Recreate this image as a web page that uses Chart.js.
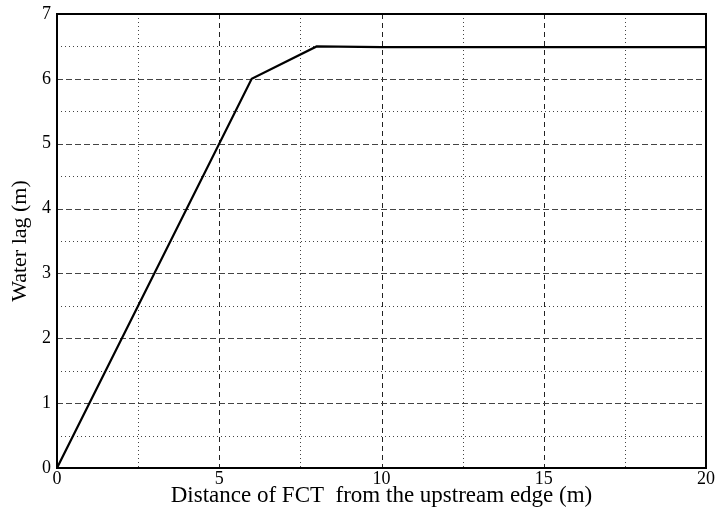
<!DOCTYPE html>
<html><head><meta charset="utf-8">
<script src="https://cdn.jsdelivr.net/npm/chart.js@4/dist/chart.umd.min.js"></script>
<style>html,body{margin:0;padding:0;background:#fff}#wrap{width:719px;height:523px}</style>
</head><body><div id="wrap"><canvas id="c" width="719" height="523"></canvas></div>
<script>
const distance = [0, 6, 8, 10, 20];
const waterLag = [0, 6, 6.5, 6.49, 6.49];
const xMajorGrid = [5, 10, 15];
const xMinorGrid = [2.5, 7.5, 12.5, 17.5];
const yMajorGrid = [1, 2, 3, 4, 5, 6];
const yMinorGrid = [0.5, 1.5, 2.5, 3.5, 4.5, 5.5, 6.5];
const xTitle = 'Distance of FCT  from the upstream edge (m)';
const yTitle = 'Water lag (m)';

const gridPlugin = {
  id: 'matlabGrid',
  beforeDatasetsDraw(chart) {
    const {ctx, chartArea: a, scales: {x, y}} = chart;
    ctx.save();
    ctx.lineWidth = 1;
    const vline = (v, dash, color) => {
      const px = Math.round(x.getPixelForValue(v)) + 0.5;
      ctx.setLineDash(dash); ctx.strokeStyle = color;
      ctx.beginPath(); ctx.moveTo(px, a.top); ctx.lineTo(px, a.bottom); ctx.stroke();
    };
    const hline = (v, dash, color) => {
      const py = Math.round(y.getPixelForValue(v)) + 0.5;
      ctx.setLineDash(dash); ctx.strokeStyle = color;
      ctx.beginPath(); ctx.moveTo(a.left, py); ctx.lineTo(a.right, py); ctx.stroke();
    };
    xMinorGrid.forEach(v => vline(v, [1, 3], '#444'));
    yMinorGrid.forEach(v => hline(v, [1, 3], '#444'));
    xMajorGrid.forEach(v => vline(v, [5, 4], '#222'));
    yMajorGrid.forEach(v => hline(v, [6, 3], '#444'));
    ctx.restore();
  },
  afterDraw(chart) {
    const {ctx, chartArea: a} = chart;
    ctx.save();
    ctx.strokeStyle = '#000'; ctx.lineWidth = 2; ctx.setLineDash([]);
    ctx.strokeRect(a.left, a.top, a.right - a.left, a.bottom - a.top);
    ctx.restore();
  }
};

new Chart(document.getElementById('c'), {
  type: 'scatter',
  data: { datasets: [{
    data: distance.map((d, i) => ({x: d, y: waterLag[i]})),
    showLine: true, borderColor: '#000', borderWidth: 2.2, pointRadius: 0, tension: 0, fill: false
  }]},
  options: {
    responsive: false, animation: false,
    layout: { padding: { top: 14, right: 13, left: 0, bottom: 0 } },
    plugins: { legend: { display: false }, tooltip: { enabled: false } },
    scales: {
      x: {
        type: 'linear', min: 0, max: 20,
        ticks: { stepSize: 5, color: '#000', font: { family: 'Liberation Serif', size: 18 }, padding: 0, maxRotation: 0 },
        grid: { display: false, drawTicks: false },
        border: { display: false },
        title: { display: true, text: xTitle, color: '#000', font: { family: 'Liberation Serif', size: 23 }, padding: { top: 0, bottom: 13 } },
        afterFit(s) { s.height = 55; s.paddingLeft = 0; s.paddingRight = 0; }
      },
      y: {
        type: 'linear', min: 0, max: 7,
        ticks: { stepSize: 1, color: '#000', font: { family: 'Liberation Serif', size: 18 }, padding: 6 },
        grid: { display: false, drawTicks: false },
        border: { display: false },
        title: { display: true, text: yTitle, color: '#000', font: { family: 'Liberation Serif', size: 22 }, padding: { top: 7, bottom: 0 } },
        afterFit(s) { s.width = 57; s.paddingTop = 0; s.paddingBottom = 0; }
      }
    }
  },
  plugins: [gridPlugin]
});
</script></body></html>
